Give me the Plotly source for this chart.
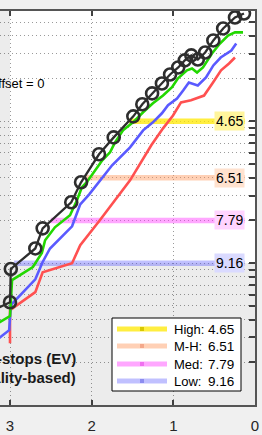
import numpy as np
import plotly.graph_objects as go

# ---------------- data ----------------
# x: stops below clipping (reversed axis), y: SNR (log axis)
black_x = [3.30, 3.00, 2.99, 2.69, 2.60, 2.25, 2.13, 1.91, 1.73, 1.49, 1.38, 1.26, 1.14,
           1.04, 0.94, 0.86, 0.78, 0.70, 0.61, 0.51, 0.39, 0.245, 0.135]
black_y = [0.44, 0.53, 0.91, 1.27, 1.76, 2.69, 3.72, 5.86, 7.71, 10.85, 13.2, 15.75, 18.5,
           21.4, 24.0, 26.9, 29.2, 27.3, 30.6, 37.2, 45.2, 54.0, 57.6]

green_x = [3.30, 3.00, 2.975, 2.72, 2.61, 2.57, 2.45, 2.265, 2.18, 2.12, 2.06, 1.935, 1.87,
           1.775, 1.714, 1.616, 1.494, 1.37, 1.25, 1.126, 1.016, 0.943, 0.833, 0.771, 0.71,
           0.637, 0.527, 0.429, 0.331, 0.245, 0.147]
green_y = [0.334, 0.424, 0.76, 0.94, 1.18, 1.45, 1.79, 2.18, 2.78, 3.43, 3.72, 4.67, 5.31,
           6.05, 7.11, 8.64, 9.84, 11.6, 13.4, 15.2, 17.4, 20.1, 22.9, 23.6, 22.1,
           24.0, 30.1, 35.4, 40.3, 42.4, 42.4]

blue_x = [3.30, 3.01, 2.99, 2.69, 2.60, 2.51, 2.24, 2.14, 2.03, 1.75, 1.53, 1.445, 1.37,
          1.25, 1.14, 1.065, 0.955, 0.88, 0.81, 0.70, 0.60, 0.51, 0.42, 0.29, 0.23]
blue_y = [0.25, 0.337, 0.506, 0.77, 1.02, 1.27, 1.82, 2.60, 3.06, 4.90, 6.56, 7.59, 8.64,
          9.84, 11.4, 13.0, 14.5, 16.5, 18.8, 17.9, 20.4, 24.8, 28.2, 31.6, 35.4]

red_x = [3.00, 3.00, 2.69, 2.60, 2.24, 2.14, 1.90, 1.53, 1.27, 1.126, 1.004, 0.906, 0.784,
         0.624, 0.514, 0.416, 0.318, 0.245]
red_y = [0.273, 0.467, 0.625, 0.864, 1.00, 1.34, 2.01, 3.84, 6.78, 8.93, 11.0, 13.6, 14.1,
         15.2, 18.8, 22.9, 25.6, 28.2]

band_names = ["High:", "M-H:", "Med:", "Low:"]
band_values = [4.65, 6.51, 7.79, 9.16]
band_levels = [10, 4, 2, 1]            # SNR thresholds
band_start = [1.54, 2.08, 2.50, 2.95]  # where the curve crosses the threshold
band_end = 0.122
band_line_colors = ["rgba(255,232,0,0.75)", "rgba(255,150,90,0.45)",
                    "rgba(255,60,255,0.45)", "rgba(90,90,255,0.38)"]
band_box_colors = ["#fff59c", "#ffe2cf", "#ffd4ff", "#dadaff"]
band_mark_colors = ["#d8c800", "#f4a88a", "#f070f0", "#8c8cf0"]

x_ticks = [0, 1, 2, 3]
y_ticks = [v * d for d in (0.1, 1, 10) for v in range(1, 10)] + [20, 30, 40, 50, 60]
y_ticks = sorted(set(round(t, 4) for t in y_ticks if t <= 60))

X_RANGE = [3.1224, 0]
Y_RANGE = [-1, np.log10(60)]
FONT = "Liberation Sans, Arial, sans-serif"

fig = go.Figure()

# shaded (out of range) regions
fig.add_trace(go.Scatter(x=[3.0, 3.5, 3.5, 3.0, 3.0], y=[0.05, 0.05, 100, 100, 0.05],
                         fill="toself", fillcolor="rgba(0,0,0,0.075)", mode="none",
                         hoverinfo="skip", showlegend=False))
fig.add_trace(go.Scatter(x=[-0.1, 3.0, 3.0, -0.1, -0.1], y=[0.05, 0.05, 1, 1, 0.05],
                         fill="toself", fillcolor="rgba(0,0,0,0.075)", mode="none",
                         hoverinfo="skip", showlegend=False))

# quality bands
for s, lvl, col in zip(band_start, band_levels, band_line_colors):
    fig.add_trace(go.Scatter(x=[s, band_end], y=[lvl, lvl], mode="lines",
                             line=dict(color=col, width=5.5), hoverinfo="skip",
                             showlegend=False))

# curves
fig.add_trace(go.Scatter(x=red_x, y=red_y, mode="lines",
                         line=dict(color="#ff5050", width=2.6), showlegend=False))
fig.add_trace(go.Scatter(x=blue_x, y=blue_y, mode="lines",
                         line=dict(color="#5a5aff", width=2.6), showlegend=False))
fig.add_trace(go.Scatter(x=green_x, y=green_y, mode="lines",
                         line=dict(color="#22d800", width=2.6), showlegend=False))
fig.add_trace(go.Scatter(x=black_x, y=black_y, mode="lines+markers",
                         line=dict(color="#2e2e2e", width=2.3),
                         marker=dict(symbol="circle-open", size=12, color="#2e2e2e",
                                     line=dict(width=2.6, color="#2e2e2e")),
                         showlegend=False))

annotations = []
# band value labels
for v, lvl, bc in zip(band_values, band_levels, band_box_colors):
    annotations.append(dict(x=band_end, y=np.log10(lvl), xref="x", yref="y",
                            text=f"{v:.2f}", showarrow=False, xanchor="right",
                            yanchor="middle", bgcolor=bc, borderpad=1,
                            font=dict(family=FONT, size=14, color="black")))

# text in the plot
annotations.append(dict(x=47 / 255, y=(405 - 83) / 394, xref="paper", yref="paper",
                        text="Offset = 0", showarrow=False, xanchor="right",
                        yanchor="middle", font=dict(family=FONT, size=13, color="black")))
annotations.append(dict(x=78 / 255, y=(405 - 358) / 394, xref="paper", yref="paper",
                        text="<b>f-stops (EV)</b>", showarrow=False, xanchor="right",
                        yanchor="middle", font=dict(family=FONT, size=15, color="#1a1a1a")))
annotations.append(dict(x=78 / 255, y=(405 - 377) / 394, xref="paper", yref="paper",
                        text="<b>(quality-based)</b>", showarrow=False, xanchor="right",
                        yanchor="middle", font=dict(family=FONT, size=15, color="#1a1a1a")))

# manual legend
shapes = []
lx0, lx1 = 112 / 255, 241 / 255
ly0, ly1 = (405 - 391) / 394, (405 - 318) / 394
shapes.append(dict(type="rect", xref="paper", yref="paper", x0=lx0, x1=lx1, y0=ly0, y1=ly1,
                   fillcolor="white", line=dict(color="black", width=1), layer="above"))
row_py = [329, 346, 364, 381]
for name, v, lc, mc, py in zip(band_names, band_values, band_line_colors,
                               band_mark_colors, row_py):
    yy = (405 - py) / 394
    shapes.append(dict(type="line", xref="paper", yref="paper", x0=117 / 255, x1=167 / 255,
                       y0=yy, y1=yy, line=dict(color=lc, width=5), layer="above"))
    shapes.append(dict(type="rect", xref="paper", yref="paper",
                       x0=140 / 255, x1=144 / 255, y0=yy - 2 / 394, y1=yy + 2 / 394,
                       fillcolor=mc, line=dict(width=0), layer="above"))
    annotations.append(dict(x=172 / 255, y=yy, xref="paper", yref="paper", text=name,
                            showarrow=False, xanchor="left", yanchor="middle",
                            font=dict(family=FONT, size=13, color="black")))
    annotations.append(dict(x=236 / 255, y=yy, xref="paper", yref="paper", text=f"{v:.2f}",
                            showarrow=False, xanchor="right", yanchor="middle",
                            font=dict(family=FONT, size=13.5, color="black")))

fig.update_layout(
    width=262, height=435,
    margin=dict(l=0, r=7, t=11, b=30),
    paper_bgcolor="#f0f0f0", plot_bgcolor="white",
    shapes=shapes, annotations=annotations,
    xaxis=dict(range=X_RANGE, tickvals=x_ticks, ticktext=[str(t) for t in x_ticks],
               ticks="inside", ticklen=5, tickwidth=1.5, tickcolor="#404040",
               showline=True, linecolor="#555555", linewidth=2, mirror="ticks",
               showgrid=True, gridcolor="#9a9a9a", gridwidth=1, griddash="1px,3px",
               zeroline=False, tickfont=dict(family=FONT, size=15, color="#262626"),
               ticklabelstandoff=6),
    yaxis=dict(type="log", range=Y_RANGE, side="right", tickvals=y_ticks,
               ticks="inside", ticklen=6, tickwidth=1.5, tickcolor="#404040",
               showticklabels=False, showline=True, linecolor="#555555", linewidth=2,
               showgrid=True, gridcolor="#9a9a9a", gridwidth=1, griddash="1px,3px",
               zeroline=False),
)

fig.write_html("out.html")
